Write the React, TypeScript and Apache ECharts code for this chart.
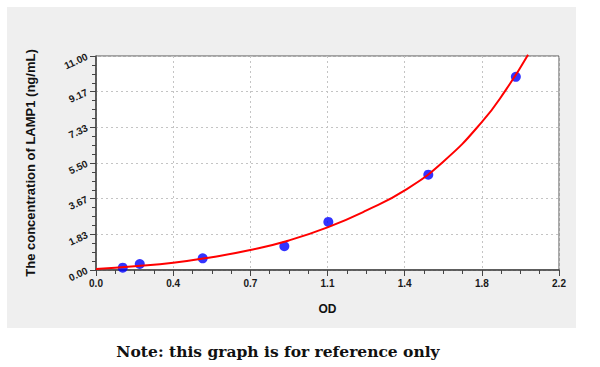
import React, { useEffect, useRef } from "react";
import * as echarts from "echarts";

const xTickLabels = ["0.0", "0.4", "0.7", "1.1", "1.4", "1.8", "2.2"];
const yTickLabels = ["0.00", "1.83", "3.67", "5.50", "7.33", "9.17", "11.00"];

const pointOD = [0.127, 0.208, 0.507, 0.895, 1.104, 1.579, 1.995];
const pointConc = [0.12, 0.31, 0.6, 1.22, 2.47, 4.9, 9.93];

const curveOD = [0.0, 0.183, 0.367, 0.55, 0.733, 0.917, 1.1, 1.283, 1.467, 1.65, 1.833, 1.95, 2.053];
const curveConc = [0.05, 0.19, 0.37, 0.66, 1.03, 1.52, 2.19, 3.05, 4.09, 5.57, 7.6, 9.3, 11.07];

const X_MAX = 2.2;
const Y_MAX = 11;
const X_STEP = X_MAX / 6;
const Y_STEP = Y_MAX / 6;

export default function App() {
  const ref = useRef<HTMLDivElement>(null);
  useEffect(() => {
    if (!ref.current) return;
    const chart = echarts.init(ref.current, null, { renderer: "svg" });
    const labelFont = {
      fontFamily: "Liberation Sans, Arial, sans-serif",
      fontWeight: "bold" as const,
      fontSize: 10,
      color: "#1a1a1a",
    };
    chart.setOption({
      animation: false,
      backgroundColor: "#ffffff",
      graphic: [
        {
          type: "rect",
          z: -100,
          shape: { x: 7, y: 7, width: 569, height: 321 },
          style: { fill: "#efefef" },
          silent: true,
        },
        {
          type: "text",
          x: 278,
          y: 351,
          style: {
            text: "Note: this graph is for reference only",
            fontFamily: "DejaVu Serif, serif",
            fontWeight: "bold",
            fontSize: 15.5,
            fill: "#111",
            align: "center",
            verticalAlign: "middle",
          },
        },
      ],
      grid: {
        left: 96,
        top: 56,
        width: 463,
        height: 214,
        show: true,
        backgroundColor: "#ffffff",
        borderColor: "#555555",
        borderWidth: 1,
      },
      xAxis: {
        type: "value",
        min: 0,
        max: X_MAX,
        interval: X_STEP,
        name: "OD",
        nameLocation: "middle",
        nameGap: 33,
        nameTextStyle: {
          fontFamily: "Liberation Sans, Arial, sans-serif",
          fontWeight: "bold",
          fontSize: 12,
          color: "#111",
        },
        axisLine: { show: true, lineStyle: { color: "#444", width: 1.5 } },
        axisTick: { show: true, length: 6, lineStyle: { color: "#444" } },
        minorTick: { show: true, splitNumber: 4, length: 4, lineStyle: { color: "#444" } },
        axisLabel: {
          ...labelFont,
          margin: 8,
          formatter: (v: number) => xTickLabels[Math.round(v / X_STEP)] ?? "",
        },
        splitLine: { show: true, lineStyle: { color: "#c4c4c4", type: [2, 3] } },
      },
      yAxis: {
        type: "value",
        min: 0,
        max: Y_MAX,
        interval: Y_STEP,
        name: "The concentration of LAMP1 (ng/mL)",
        nameLocation: "middle",
        nameGap: 59,
        nameRotate: 90,
        nameTextStyle: {
          fontFamily: "Liberation Sans, Arial, sans-serif",
          fontWeight: "bold",
          fontSize: 13,
          color: "#111",
        },
        axisLine: { show: true, lineStyle: { color: "#444", width: 1.5 } },
        axisTick: { show: true, length: 6, lineStyle: { color: "#444" } },
        minorTick: { show: true, splitNumber: 4, length: 4, lineStyle: { color: "#444" } },
        axisLabel: {
          ...labelFont,
          rotate: 25,
          margin: 9,
          formatter: (v: number) => yTickLabels[Math.round(v / Y_STEP)] ?? "",
        },
        splitLine: { show: true, lineStyle: { color: "#c4c4c4", type: [2, 3] } },
      },
      series: [
        {
          type: "scatter",
          data: pointOD.map((x, i) => [x, pointConc[i]]),
          symbol: "circle",
          symbolSize: 10,
          itemStyle: { color: "#0000ff" },
          z: 2,
        },
        {
          type: "line",
          data: curveOD.map((x, i) => [x, curveConc[i]]),
          smooth: 0.5,
          showSymbol: false,
          clip: false,
          lineStyle: { color: "#ff0000", width: 2 },
          z: 3,
        },
      ],
    });
    return () => chart.dispose();
  }, []);
  return (
    <div
      ref={ref}
      style={{ position: "fixed", left: 0, top: 0, width: 600, height: 367 }}
    />
  );
}
